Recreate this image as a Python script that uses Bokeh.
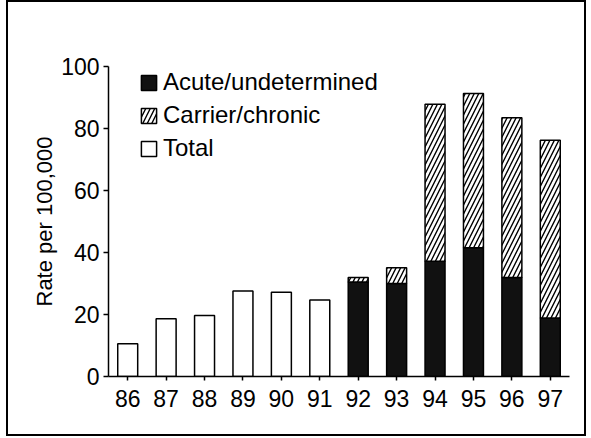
from bokeh.plotting import figure
from bokeh.models import FactorRange, Legend, LegendItem, ColumnDataSource, FixedTicker
from bokeh.embed import file_html
from bokeh.resources import INLINE

# ---- data ----
years = ["86", "87", "88", "89", "90", "91", "92", "93", "94", "95", "96", "97"]
total_years = ["86", "87", "88", "89", "90", "91"]
total_rate = [10.6, 18.6, 19.7, 27.6, 27.2, 24.7]
split_years = ["92", "93", "94", "95", "96", "97"]
acute_rate = [30.5, 30.0, 37.2, 41.5, 31.9, 18.9]
carrier_rate = [1.4, 5.1, 50.6, 49.8, 51.6, 57.3]
y_ticks = [0, 20, 40, 60, 80, 100]

FONT = "Liberation Sans"

p = figure(
    x_range=FactorRange(*years), y_range=(0, 100),
    width=580, height=436, output_backend="svg", toolbar_location=None,
    min_border_left=100, min_border_top=64, min_border_right=19, min_border_bottom=62,
)
p.margin = (0, 0, 0, 6)
p.styles = {"border": "2px solid black"}
p.outline_line_color = None
p.xgrid.visible = False
p.ygrid.visible = False
p.background_fill_color = "white"
p.border_fill_color = "white"

tot_src = ColumnDataSource(dict(x=total_years, top=total_rate))
r_tot = p.vbar(x="x", top="top", width=0.52, source=tot_src,
               fill_color="white", line_color="black", line_width=1.5)

split_src = ColumnDataSource(dict(x=split_years, acute=acute_rate, carrier=carrier_rate))
r_stack = p.vbar_stack(["acute", "carrier"], x="x", width=0.52, source=split_src,
                       fill_color=["#111111", "white"], line_color="black", line_width=1.5,
                       hatch_pattern=[" ", "/"], hatch_color="black", hatch_weight=1.4,
                       hatch_scale=9)

legend = Legend(items=[
    LegendItem(label="Acute/undetermined", renderers=[r_stack[0]]),
    LegendItem(label="Carrier/chronic", renderers=[r_stack[1]]),
    LegendItem(label="Total", renderers=[r_tot]),
], location=(31, 214))
legend.label_text_font = FONT
legend.label_text_font_size = "24px"
legend.label_text_color = "black"
legend.glyph_width = 19
legend.glyph_height = 19
legend.label_height = 19
legend.spacing = 5
legend.label_standoff = 5
legend.padding = 0
legend.margin = 0
legend.border_line_color = None
legend.background_fill_alpha = 0
p.add_layout(legend)

for ax in (p.xaxis[0], p.yaxis[0]):
    ax.axis_line_width = 1.5
    ax.axis_line_color = "black"
    ax.major_tick_line_color = "black"
    ax.major_tick_line_width = 1.5
    ax.major_tick_in = 0
    ax.major_label_text_font = FONT
    ax.major_label_text_font_size = "23px"
    ax.major_label_text_color = "black"

p.xaxis.major_tick_out = 4
p.xaxis.major_label_standoff = 9
p.xaxis.group_text_font_size = "0px"

p.yaxis.ticker = FixedTicker(ticks=y_ticks)
p.yaxis.minor_tick_line_color = None
p.yaxis.major_tick_out = 5
p.yaxis.major_label_standoff = 4
p.yaxis.axis_label = "Rate per 100,000"
p.yaxis.axis_label_text_font = FONT
p.yaxis.axis_label_text_font_size = "22px"
p.yaxis.axis_label_text_font_style = "normal"
p.yaxis.axis_label_text_color = "black"
p.yaxis.axis_label_standoff = 1

open("out.html", "w").write(file_html(p, INLINE))
